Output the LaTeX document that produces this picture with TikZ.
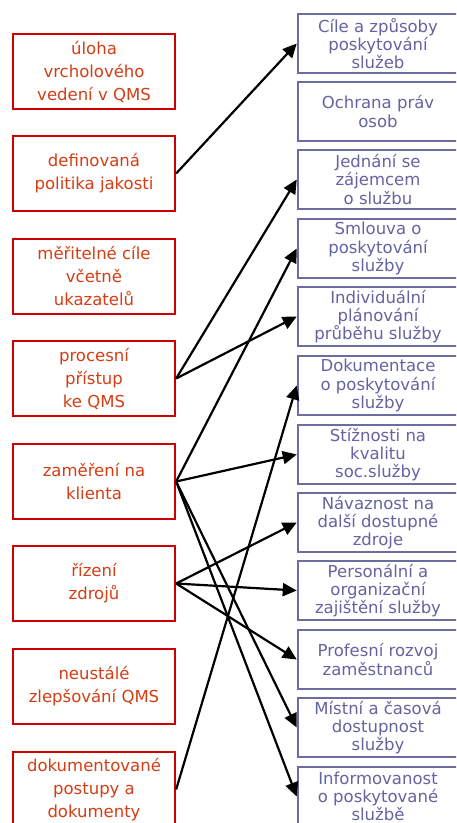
\documentclass[tikz,border=0pt]{standalone}
\usepackage{fontspec}
\setmainfont{DejaVu Sans}
\usetikzlibrary{arrows.meta}
\definecolor{lborder}{RGB}{204,0,0}
\definecolor{ltext}{RGB}{212,62,20}
\definecolor{rborder}{RGB}{108,108,158}
\definecolor{rtext}{RGB}{100,100,160}
\tikzset{
  lbox/.style={draw=lborder, line width=2.3pt, text=ltext, align=center,
    minimum width=162pt, minimum height=75pt, inner sep=0pt,
    font=\fontsize{16.5}{23}\selectfont},
  rbox/.style={draw=rborder, line width=2.5pt, text=rtext, align=center,
    minimum width=160pt, minimum height=59pt, inner sep=0pt,
    font=\fontsize{16.5}{18.3}\selectfont},
  conn/.style={draw=black, line width=2.2pt, -{Triangle[length=14pt,width=13pt]}}
}
\begin{document}
\begin{tikzpicture}[x=1pt,y=1pt]
\path[use as bounding box, clip] (0,0) rectangle (456,-823);
\fill[white] (0,0) rectangle (456,-823);
% left column
\node[lbox] (L1) at (94,-71.5) {úloha\\vrcholového\\vedení v QMS};
\node[lbox] (L2) at (94,-173.5) {definovaná\\politika jakosti};
\node[lbox] (L3) at (94,-276.5) {měřitelné cíle\\včetně\\ukazatelů};
\node[lbox] (L4) at (94,-378.5) {procesní\\přístup\\ke QMS};
\node[lbox] (L5) at (94,-481.5) {zaměření na\\klienta};
\node[lbox] (L6) at (94,-583.5) {řízení\\zdrojů};
\node[lbox] (L7) at (94,-686.5) {neustálé\\zlepšování QMS};
\node[lbox] (L8) at (94,-789.5) {dokumentované\\postupy a\\dokumenty};
% right column
\node[rbox] (R1) at (378,-43.5) {Cíle a způsoby\\poskytování\\služeb};
\node[rbox] (R2) at (378,-111.5) {Ochrana práv\\osob};
\node[rbox] (R3) at (378,-179.5) {Jednání se\\zájemcem\\o službu};
\node[rbox] (R4) at (378,-248.5) {Smlouva o\\poskytování\\služby};
\node[rbox] (R5) at (378,-316.5) {Individuální\\plánování\\průběhu služby};
\node[rbox] (R6) at (378,-385.5) {Dokumentace\\o poskytování\\služby};
\node[rbox] (R7) at (378,-454.5) {Stížnosti na\\kvalitu\\soc.služby};
\node[rbox] (R8) at (378,-522.5) {Návaznost na\\další dostupné\\zdroje};
\node[rbox] (R9) at (378,-590.5) {Personální a\\organizační\\zajištění služby};
\node[rbox] (R10) at (378,-659.5) {Profesní rozvoj\\zaměstnanců};
\node[rbox] (R11) at (378,-727.5) {Místní a časová\\dostupnost\\služby};
\node[rbox] (R12) at (378,-796.5) {Informovanost\\o poskytované\\službě};
% connectors
\draw[conn] (L2.east) -- (R1.west);
\draw[conn] (L4.east) -- (R3.west);
\draw[conn] (L4.east) -- (R5.west);
\draw[conn] (L5.east) -- (R4.west);
\draw[conn] (L5.east) -- (R7.west);
\draw[conn] (L5.east) -- (R11.west);
\draw[conn] (L5.east) -- (R12.west);
\draw[conn] (L6.east) -- (R8.west);
\draw[conn] (L6.east) -- (R9.west);
\draw[conn] (L6.east) -- (R10.west);
\draw[conn] (L8.east) -- (R6.west);
\end{tikzpicture}
\end{document}
